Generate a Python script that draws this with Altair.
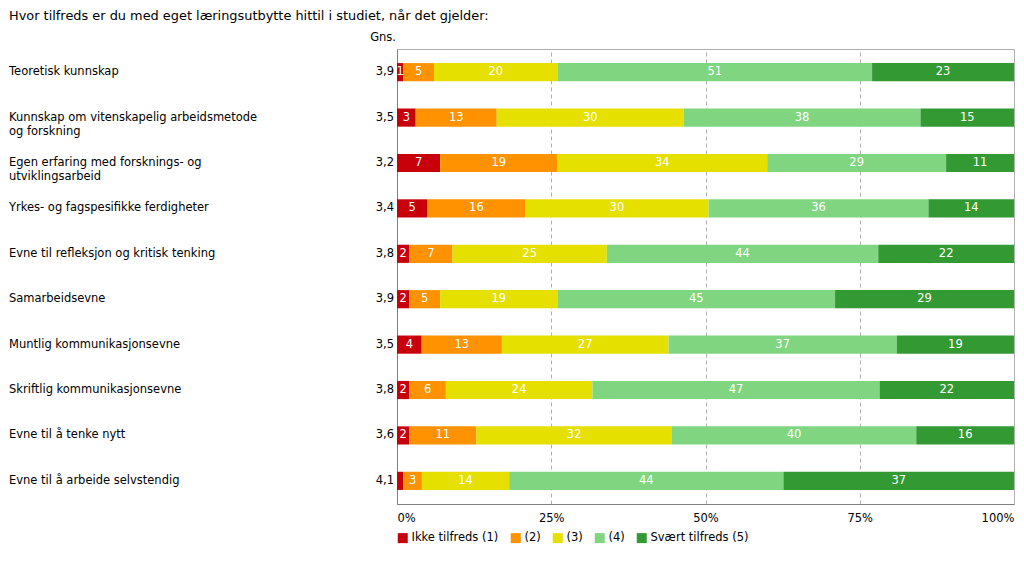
import altair as alt
import pandas as pd

title = "Hvor tilfreds er du med eget læringsutbytte hittil i studiet, når det gjelder:"
categories = [
    "Teoretisk kunnskap",
    "Kunnskap om vitenskapelig arbeidsmetode\nog forskning",
    "Egen erfaring med forsknings- og\nutviklingsarbeid",
    "Yrkes- og fagspesifikke ferdigheter",
    "Evne til refleksjon og kritisk tenking",
    "Samarbeidsevne",
    "Muntlig kommunikasjonsevne",
    "Skriftlig kommunikasjonsevne",
    "Evne til å tenke nytt",
    "Evne til å arbeide selvstendig",
]
means = ["3,9", "3,5", "3,2", "3,4", "3,8", "3,9", "3,5", "3,8", "3,6", "4,1"]
levels = ["Ikke tilfreds (1)", "(2)", "(3)", "(4)", "Svært tilfreds (5)"]
colors = ["#c8000a", "#ff9200", "#e6e000", "#80d680", "#339933"]
v1 = [1, 3, 7, 5, 2, 2, 4, 2, 2, 1]
v2 = [5, 13, 19, 16, 7, 5, 13, 6, 11, 3]
v3 = [20, 30, 34, 30, 25, 19, 27, 24, 32, 14]
v4 = [51, 38, 29, 36, 44, 45, 37, 47, 40, 44]
v5 = [23, 15, 11, 14, 22, 29, 19, 22, 16, 37]
# segment labels not printed in the reference (category index, level index)
hidden_labels = [(9, 0)]

series = [v1, v2, v3, v4, v5]
rows = []
for ci, cat in enumerate(categories):
    for li, lev in enumerate(levels):
        val = series[li][ci]
        rows.append({
            "cat": cat,
            "level": lev,
            "order": li,
            "value": val,
            "label": "" if (ci, li) in hidden_labels else str(val),
        })
df = pd.DataFrame(rows)
df_rows = pd.DataFrame({"cat": categories, "mean": means})

FONT = "DejaVu Sans"
FS = 11.5

y_enc = alt.Y(
    "cat:N",
    sort=categories,
    scale=alt.Scale(domain=categories, paddingInner=0.6, paddingOuter=0.31),
    axis=alt.Axis(labels=False, ticks=False, title=None, domainColor="#808080", grid=False),
)

base = alt.Chart(df).transform_stack(
    stack="value",
    groupby=["cat"],
    as_=["x0", "x1"],
    offset="normalize",
    sort=[alt.SortField(field="order", order="ascending")],
)

bars = base.mark_bar().encode(
    y=y_enc,
    x=alt.X(
        "x0:Q",
        scale=alt.Scale(domain=[0, 1], nice=False),
        axis=alt.Axis(
            format="%",
            values=[0, 0.25, 0.5, 0.75, 1],
            labelFlush=True,
            ticks=False,
            grid=True,
            gridDash=[4, 3],
            gridColor="#b0b0b0",
            gridOpacity={"condition": {"test": "datum.value > 0 && datum.value < 1", "value": 1}, "value": 0},
            domainColor="#808080",
            title=None,
            labelPadding=8,
            labelFontSize=FS,
            labelColor="#000000",
            labelFont=FONT,
        ),
    ),
    x2="x1:Q",
    color=alt.Color(
        "level:N",
        scale=alt.Scale(domain=levels, range=colors),
        sort=levels,
        title=None,
    ),
    order=alt.Order("order:Q"),
)

seg_labels = base.transform_calculate(xm="(datum.x0 + datum.x1) / 2").mark_text(
    color="white", fontSize=11.5, font=FONT, align="center", baseline="middle"
).encode(
    y=alt.Y("cat:N", sort=categories),
    x=alt.X("xm:Q"),
    text="label:N",
)

cat_text = alt.Chart(df_rows).mark_text(
    align="left", baseline="middle", fontSize=FS, font=FONT, color="#000000", lineBreak="\n", lineHeight=14
).encode(
    y=alt.Y("cat:N", sort=categories),
    x=alt.value(-388),
    text="cat:N",
)

mean_text = alt.Chart(df_rows).mark_text(
    align="right", baseline="middle", fontSize=FS, font=FONT, color="#000000"
).encode(
    y=alt.Y("cat:N", sort=categories),
    x=alt.value(-3),
    text="mean:N",
)

gns = alt.Chart(pd.DataFrame({"t": ["Gns."]})).mark_text(
    align="right", baseline="middle", fontSize=FS, font=FONT, color="#000000"
).encode(x=alt.value(-1), y=alt.value(-11), text="t:N")

ttl = alt.Chart(pd.DataFrame({"t": [title]})).mark_text(
    align="left", baseline="middle", fontSize=12.9, font=FONT, color="#000000"
).encode(x=alt.value(-388), y=alt.value(-33), text="t:N")

chart = alt.layer(bars, seg_labels, cat_text, mean_text, gns, ttl).properties(
    width=617,
    height=455,
    padding={"left": 389, "top": 41, "right": 2, "bottom": 50},
    autosize=alt.AutoSizeParams(type="none"),
).configure(font=FONT).configure_view(
    stroke="#b0b0b0"
).configure_legend(
    orient="none",
    legendX=0,
    legendY=483,
    direction="horizontal",
    symbolType="square",
    symbolSize=100,
    symbolStrokeWidth=0,
    labelFontSize=FS,
    labelFont=FONT,
    labelColor="#000000",
    columnPadding=11,
    labelOffset=3,
)

chart.save("out.html", embed_options={"renderer": "svg", "actions": False})
